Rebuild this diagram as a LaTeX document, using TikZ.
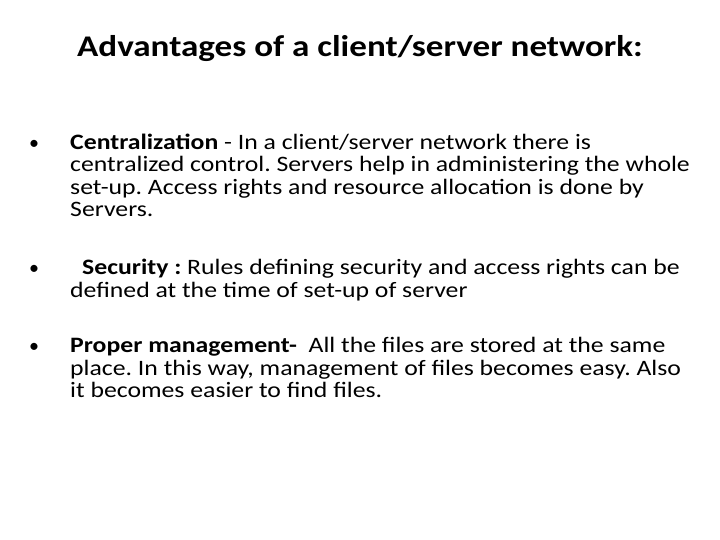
\documentclass[tikz,border=0pt]{standalone}
\usepackage{fontspec}
\setmainfont{Carlito}
\usetikzlibrary{positioning}
\newcommand{\wide}[1]{\scalebox{1.17}[1]{#1}}

\begin{document}
\frenchspacing
\begin{tikzpicture}[x=1pt, y=-1pt,
    line/.style={anchor=base west, inner sep=0pt, font=\fontsize{22}{24}\selectfont},
    dot/.style={anchor=base west, inner sep=0pt, font=\fontsize{20}{22}\selectfont}]
        \useasboundingbox (0,0) rectangle (720,540);

        % title
        \node (title) at (360,57) [anchor=base, inner sep=0pt, font=\fontsize{30}{34}\selectfont\bfseries] {\wide{Advantages of a client/server network:}};

        % centralization
        \node (b1) at (29,150) [dot] {\textbullet};
        \node (c1) at (70,150) [line] {\wide{\textbf{Centralization} - In a client/server network there is}};
        \node (c2) at (70,172) [line] {\wide{centralized control. Servers help in administering the whole}};
        \node (c3) at (70,195) [line] {\wide{set-up. Access rights and resource allocation is done by}};
        \node (c4) at (70,217) [line] {\wide{Servers.}};

        % security
        \node (b2) at (29,274) [dot] {\textbullet};
        \node (s1) at (82,274) [line] {\wide{\textbf{Security :} Rules defining security and access rights can be}};
        \node (s2) at (70,297) [line] {\wide{defined at the time of set-up of server}};

        % proper management
        \node (b3) at (29,352) [dot] {\textbullet};
        \node (p1) at (70,352) [line] {\wide{\textbf{Proper management-}\ \ All the files are stored at the same}};
        \node (p2) at (70,375) [line] {\wide{place. In this way, management of files becomes easy. Also}};
        \node (p3) at (70,397) [line] {\wide{it becomes easier to find files.}};
\end{tikzpicture}
\end{document}
